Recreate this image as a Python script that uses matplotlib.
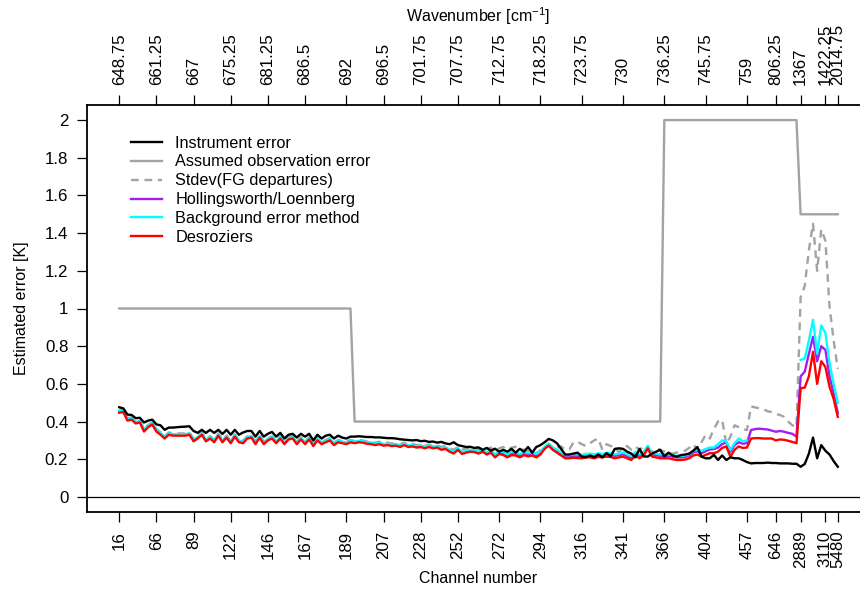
import numpy as np
import matplotlib
matplotlib.use("Agg")
import matplotlib.pyplot as plt

plt.rcParams["font.family"] = ["Liberation Sans", "DejaVu Sans"]
plt.rcParams["font.size"] = 11.5
plt.rcParams["mathtext.default"] = "regular"

# -------------------------
# Channel axis: positions of labelled channels in the used-channel list
# -------------------------
tick_pos = [0, 9, 18, 27, 36, 45, 55, 64, 73, 82, 92, 102, 112, 122, 132,
            142, 152, 159, 165, 171, 174]
tick_channel = ["16", "66", "89", "122", "146", "167", "189", "207", "228",
                "252", "272", "294", "316", "341", "366", "404", "457", "646",
                "2889", "3110", "5480"]
tick_wavenumber = ["648.75", "661.25", "667", "675.25", "681.25", "686.5",
                   "692", "696.5", "701.75", "707.75", "712.75", "718.25",
                   "723.75", "730", "736.25", "745.75", "759", "806.25",
                   "1367", "1422.25", "2014.75"]

# -------------------------
# Error estimates per channel [K]
# -------------------------
instrument_err = [
    0.476, 0.470, 0.437, 0.435, 0.418, 0.420, 0.395, 0.405, 0.410, 0.385,
    0.380, 0.356, 0.368, 0.368, 0.370, 0.372, 0.373, 0.375, 0.350, 0.340,
    0.356, 0.340, 0.356, 0.340, 0.356, 0.334, 0.356, 0.330, 0.356, 0.330,
    0.342, 0.350, 0.350, 0.320, 0.350, 0.320, 0.335, 0.345, 0.320, 0.340,
    0.310, 0.330, 0.335, 0.315, 0.335, 0.320, 0.335, 0.300, 0.330, 0.310,
    0.325, 0.330, 0.310, 0.325, 0.315, 0.310, 0.320, 0.320, 0.322, 0.320,
    0.318, 0.318, 0.316, 0.316, 0.314, 0.312, 0.312, 0.310, 0.306, 0.304,
    0.302, 0.300, 0.302, 0.296, 0.298, 0.292, 0.294, 0.288, 0.292, 0.284,
    0.280, 0.290, 0.275, 0.270, 0.265, 0.266, 0.260, 0.263, 0.250, 0.260,
    0.245, 0.256, 0.240, 0.250, 0.240, 0.255, 0.235, 0.255, 0.240, 0.265,
    0.235, 0.265, 0.275, 0.290, 0.308, 0.300, 0.285, 0.255, 0.225, 0.225,
    0.230, 0.235, 0.214, 0.210, 0.220, 0.210, 0.225, 0.210, 0.232, 0.215,
    0.255, 0.258, 0.255, 0.240, 0.230, 0.210, 0.255, 0.215, 0.214, 0.230,
    0.240, 0.250, 0.215, 0.235, 0.220, 0.214, 0.222, 0.225, 0.230, 0.245,
    0.265, 0.214, 0.205, 0.205, 0.223, 0.196, 0.220, 0.196, 0.210, 0.205,
    0.205, 0.196, 0.185, 0.178, 0.180, 0.180, 0.180, 0.182, 0.180, 0.180,
    0.178, 0.178, 0.178, 0.176, 0.176, 0.160, 0.175, 0.230, 0.315, 0.205,
    0.275, 0.245, 0.225, 0.190, 0.160,
]

# assumed observation error is constant over blocks of channels
assumed_levels = [1.0, 0.4, 2.0, 1.5]
assumed_counts = [57, 75, 33, 10]

fg_stdev = [
    0.460, 0.462, 0.418, 0.422, 0.402, 0.407, 0.360, 0.382, 0.396, 0.360,
    0.343, 0.323, 0.342, 0.337, 0.337, 0.337, 0.337, 0.342, 0.308, 0.322,
    0.342, 0.308, 0.322, 0.303, 0.337, 0.303, 0.327, 0.298, 0.332, 0.303,
    0.298, 0.322, 0.327, 0.293, 0.327, 0.293, 0.312, 0.322, 0.298, 0.322,
    0.293, 0.317, 0.322, 0.293, 0.317, 0.293, 0.317, 0.283, 0.312, 0.293,
    0.302, 0.312, 0.288, 0.302, 0.297, 0.293, 0.302, 0.297, 0.302, 0.300,
    0.295, 0.293, 0.288, 0.293, 0.285, 0.288, 0.283, 0.285, 0.278, 0.288,
    0.278, 0.281, 0.275, 0.278, 0.271, 0.278, 0.271, 0.275, 0.265, 0.270,
    0.258, 0.250, 0.266, 0.252, 0.256, 0.260, 0.262, 0.250, 0.262, 0.255,
    0.262, 0.240, 0.258, 0.265, 0.248, 0.262, 0.266, 0.255, 0.250, 0.242,
    0.238, 0.232, 0.248, 0.268, 0.282, 0.265, 0.262, 0.268, 0.250, 0.252,
    0.290, 0.292, 0.280, 0.270, 0.285, 0.300, 0.310, 0.250, 0.280, 0.270,
    0.268, 0.235, 0.260, 0.270, 0.250, 0.268, 0.250, 0.268, 0.250, 0.240,
    0.258, 0.250, 0.240, 0.232, 0.230, 0.235, 0.240, 0.245, 0.260, 0.280,
    0.250, 0.290, 0.330, 0.310, 0.360, 0.400, 0.410, 0.280, 0.320, 0.380,
    0.370, 0.360, 0.355, 0.480, 0.475, 0.470, 0.465, 0.455, 0.450, 0.440,
    0.435, 0.425, 0.400, 0.380, 0.370, 1.060, 1.120, 1.310, 1.450, 1.200,
    1.420, 1.360, 1.010, 0.830, 0.680,
]

hl_err = [
    0.452, 0.456, 0.410, 0.416, 0.396, 0.400, 0.353, 0.376, 0.390, 0.352,
    0.336, 0.316, 0.336, 0.331, 0.330, 0.331, 0.330, 0.336, 0.300, 0.316,
    0.336, 0.300, 0.316, 0.296, 0.330, 0.296, 0.320, 0.291, 0.326, 0.296,
    0.291, 0.316, 0.320, 0.286, 0.320, 0.286, 0.306, 0.316, 0.291, 0.316,
    0.286, 0.311, 0.316, 0.286, 0.310, 0.286, 0.311, 0.276, 0.306, 0.286,
    0.296, 0.306, 0.281, 0.296, 0.291, 0.286, 0.296, 0.291, 0.296, 0.294,
    0.288, 0.286, 0.281, 0.286, 0.278, 0.281, 0.276, 0.278, 0.271, 0.281,
    0.271, 0.274, 0.268, 0.271, 0.264, 0.271, 0.264, 0.268, 0.256, 0.261,
    0.247, 0.237, 0.257, 0.235, 0.242, 0.247, 0.245, 0.237, 0.247, 0.232,
    0.244, 0.220, 0.238, 0.232, 0.220, 0.232, 0.230, 0.222, 0.234, 0.226,
    0.232, 0.222, 0.236, 0.262, 0.278, 0.258, 0.244, 0.230, 0.215, 0.216,
    0.219, 0.218, 0.216, 0.222, 0.222, 0.217, 0.224, 0.222, 0.226, 0.224,
    0.218, 0.222, 0.226, 0.217, 0.208, 0.232, 0.218, 0.232, 0.266, 0.226,
    0.222, 0.218, 0.218, 0.218, 0.213, 0.210, 0.210, 0.212, 0.220, 0.236,
    0.242, 0.232, 0.242, 0.252, 0.254, 0.262, 0.280, 0.290, 0.240, 0.275,
    0.290, 0.282, 0.285, 0.355, 0.360, 0.362, 0.360, 0.358, 0.352, 0.346,
    0.350, 0.346, 0.340, 0.335, 0.320, 0.640, 0.665, 0.760, 0.850, 0.720,
    0.800, 0.780, 0.640, 0.550, 0.445,
]

nan = np.nan
bg_err = [
    0.455, 0.458, 0.413, 0.418, 0.398, 0.403, 0.356, 0.378, 0.393, 0.355,
    0.339, 0.318, 0.338, 0.333, 0.333, 0.333, 0.333, 0.338, 0.303, 0.318,
    0.338, 0.303, 0.318, 0.298, 0.333, 0.298, 0.323, 0.293, 0.328, 0.298,
    0.293, 0.318, 0.323, 0.288, 0.323, 0.288, 0.308, 0.318, 0.293, 0.318,
    0.288, 0.313, 0.318, 0.288, 0.313, 0.288, 0.313, 0.278, 0.308, 0.288,
    0.298, 0.308, 0.283, 0.298, 0.293, 0.288, 0.298, 0.293, 0.298, 0.296,
    0.290, 0.288, 0.283, 0.288, 0.280, 0.283, 0.278, 0.280, 0.273, 0.283,
    0.273, 0.276, 0.270, 0.273, 0.266, 0.273, 0.266, 0.270, 0.258, 0.263,
    0.249, 0.240, 0.259, 0.238, 0.245, 0.250, 0.248, 0.240, 0.250, 0.236,
    0.248, 0.224, 0.242, 0.238, 0.226, 0.240, 0.236, 0.228, 0.240, 0.232,
    0.238, 0.228, 0.242, 0.266, 0.282, 0.262, 0.250, 0.236, 0.222, 0.222,
    0.226, 0.226, 0.224, 0.228, 0.230, 0.226, 0.232, 0.228, 0.234, 0.232,
    0.226, 0.230, 0.236, 0.226, 0.216, 0.240, 0.226, 0.240, 0.272, 0.234,
    0.230, 0.226, 0.226, 0.226, 0.222, 0.218, 0.218, 0.220, 0.228, 0.245,
    0.250, 0.245, 0.255, 0.262, 0.262, 0.280, 0.300, 0.294, 0.250, 0.285,
    0.310, 0.296, 0.300, nan, nan, nan, nan, nan, nan, nan,
    nan, nan, nan, nan, nan, 0.727, 0.735, 0.830, 0.940, 0.760,
    0.910, 0.870, 0.710, 0.600, 0.500,
]

desroziers_err = [
    0.447, 0.450, 0.405, 0.410, 0.390, 0.395, 0.347, 0.370, 0.385, 0.347,
    0.330, 0.310, 0.330, 0.325, 0.325, 0.325, 0.325, 0.330, 0.295, 0.310,
    0.330, 0.295, 0.310, 0.290, 0.325, 0.290, 0.315, 0.285, 0.320, 0.290,
    0.285, 0.310, 0.315, 0.280, 0.315, 0.280, 0.300, 0.310, 0.285, 0.310,
    0.280, 0.305, 0.310, 0.280, 0.305, 0.280, 0.305, 0.270, 0.300, 0.280,
    0.290, 0.300, 0.275, 0.290, 0.285, 0.280, 0.290, 0.285, 0.290, 0.288,
    0.282, 0.280, 0.275, 0.280, 0.272, 0.275, 0.270, 0.272, 0.265, 0.275,
    0.265, 0.268, 0.262, 0.265, 0.258, 0.265, 0.258, 0.262, 0.250, 0.255,
    0.240, 0.230, 0.250, 0.228, 0.235, 0.240, 0.238, 0.230, 0.240, 0.225,
    0.235, 0.210, 0.228, 0.222, 0.210, 0.222, 0.220, 0.210, 0.222, 0.215,
    0.220, 0.210, 0.225, 0.255, 0.272, 0.250, 0.235, 0.220, 0.205, 0.205,
    0.208, 0.206, 0.205, 0.210, 0.210, 0.205, 0.212, 0.210, 0.214, 0.212,
    0.205, 0.210, 0.214, 0.205, 0.196, 0.220, 0.205, 0.220, 0.258, 0.214,
    0.210, 0.205, 0.205, 0.205, 0.200, 0.196, 0.196, 0.198, 0.205, 0.220,
    0.225, 0.214, 0.223, 0.232, 0.232, 0.240, 0.260, 0.268, 0.214, 0.250,
    0.268, 0.260, 0.262, 0.310, 0.312, 0.312, 0.310, 0.310, 0.310, 0.300,
    0.305, 0.303, 0.298, 0.292, 0.285, 0.577, 0.580, 0.640, 0.770, 0.600,
    0.720, 0.690, 0.585, 0.520, 0.425,
]

x = np.arange(len(instrument_err))
assumed_err = np.repeat(assumed_levels, assumed_counts)

# -------------------------
# Figure
# -------------------------
fig = plt.figure(figsize=(8.6, 5.89), dpi=100)
# plot region runs past the right edge of the figure
ax = fig.add_axes([87 / 860, 77 / 589, 783 / 860, 407 / 589])

LW = 1.7
ax.axhline(0, color="black", lw=0.9)
ax.plot(x, assumed_err, color="#a3a3a3", lw=LW, label="Assumed observation error")
ax.plot(x, fg_stdev, color="#a3a3a3", lw=LW, ls=(0, (3.3, 2.4)),
        label="Stdev(FG departures)")
ax.plot(x, hl_err, color="#a020f0", lw=LW, label="Hollingsworth/Loennberg")
ax.plot(x, bg_err, color="#00ffff", lw=LW, label="Background error method")
ax.plot(x, desroziers_err, color="#ff0000", lw=LW, label="Desroziers")
ax.plot(x, instrument_err, color="black", lw=LW, label="Instrument error")

ax.set_xlim(-7.8, 181.8)
ax.set_ylim(-0.08, 2.08)

yt = np.arange(0, 2.01, 0.2)
ax.set_yticks(yt)
ax.set_yticklabels([("%g" % v) for v in yt])
ax.set_xticks(tick_pos)
ax.set_xticklabels(tick_channel, rotation=90)
ax.tick_params(axis="both", direction="out", length=7, width=0.9, pad=6.5,
               labelsize=12.2)
ax.set_xlabel("Channel number", labelpad=2)
ax.set_ylabel("Estimated error [K]", labelpad=11.5)

for side in ["left", "top", "bottom"]:
    ax.spines[side].set_linewidth(1.3)
ax.spines["right"].set_visible(False)

top = ax.twiny()
top.set_xlim(ax.get_xlim())
top.set_xticks(tick_pos)
top.set_xticklabels(tick_wavenumber, rotation=90)
top.tick_params(axis="x", direction="out", length=7, width=0.9, pad=7.5,
                labelsize=12.2)
top.set_xlabel(r"Wavenumber [cm$^{-1}$]", labelpad=1)
for s in top.spines.values():
    s.set_visible(False)

handles, labels = ax.get_legend_handles_labels()
order = ["Instrument error", "Assumed observation error", "Stdev(FG departures)",
         "Hollingsworth/Loennberg", "Background error method", "Desroziers"]
hmap = dict(zip(labels, handles))
ax.legend([hmap[k] for k in order], order, loc="upper left",
          bbox_to_anchor=(0.0558, 0.925), borderpad=0, borderaxespad=0,
          frameon=False, handlelength=1.9, handletextpad=0.85,
          labelspacing=0.24, fontsize=11.7)

fig.savefig("out.png", dpi=100)
